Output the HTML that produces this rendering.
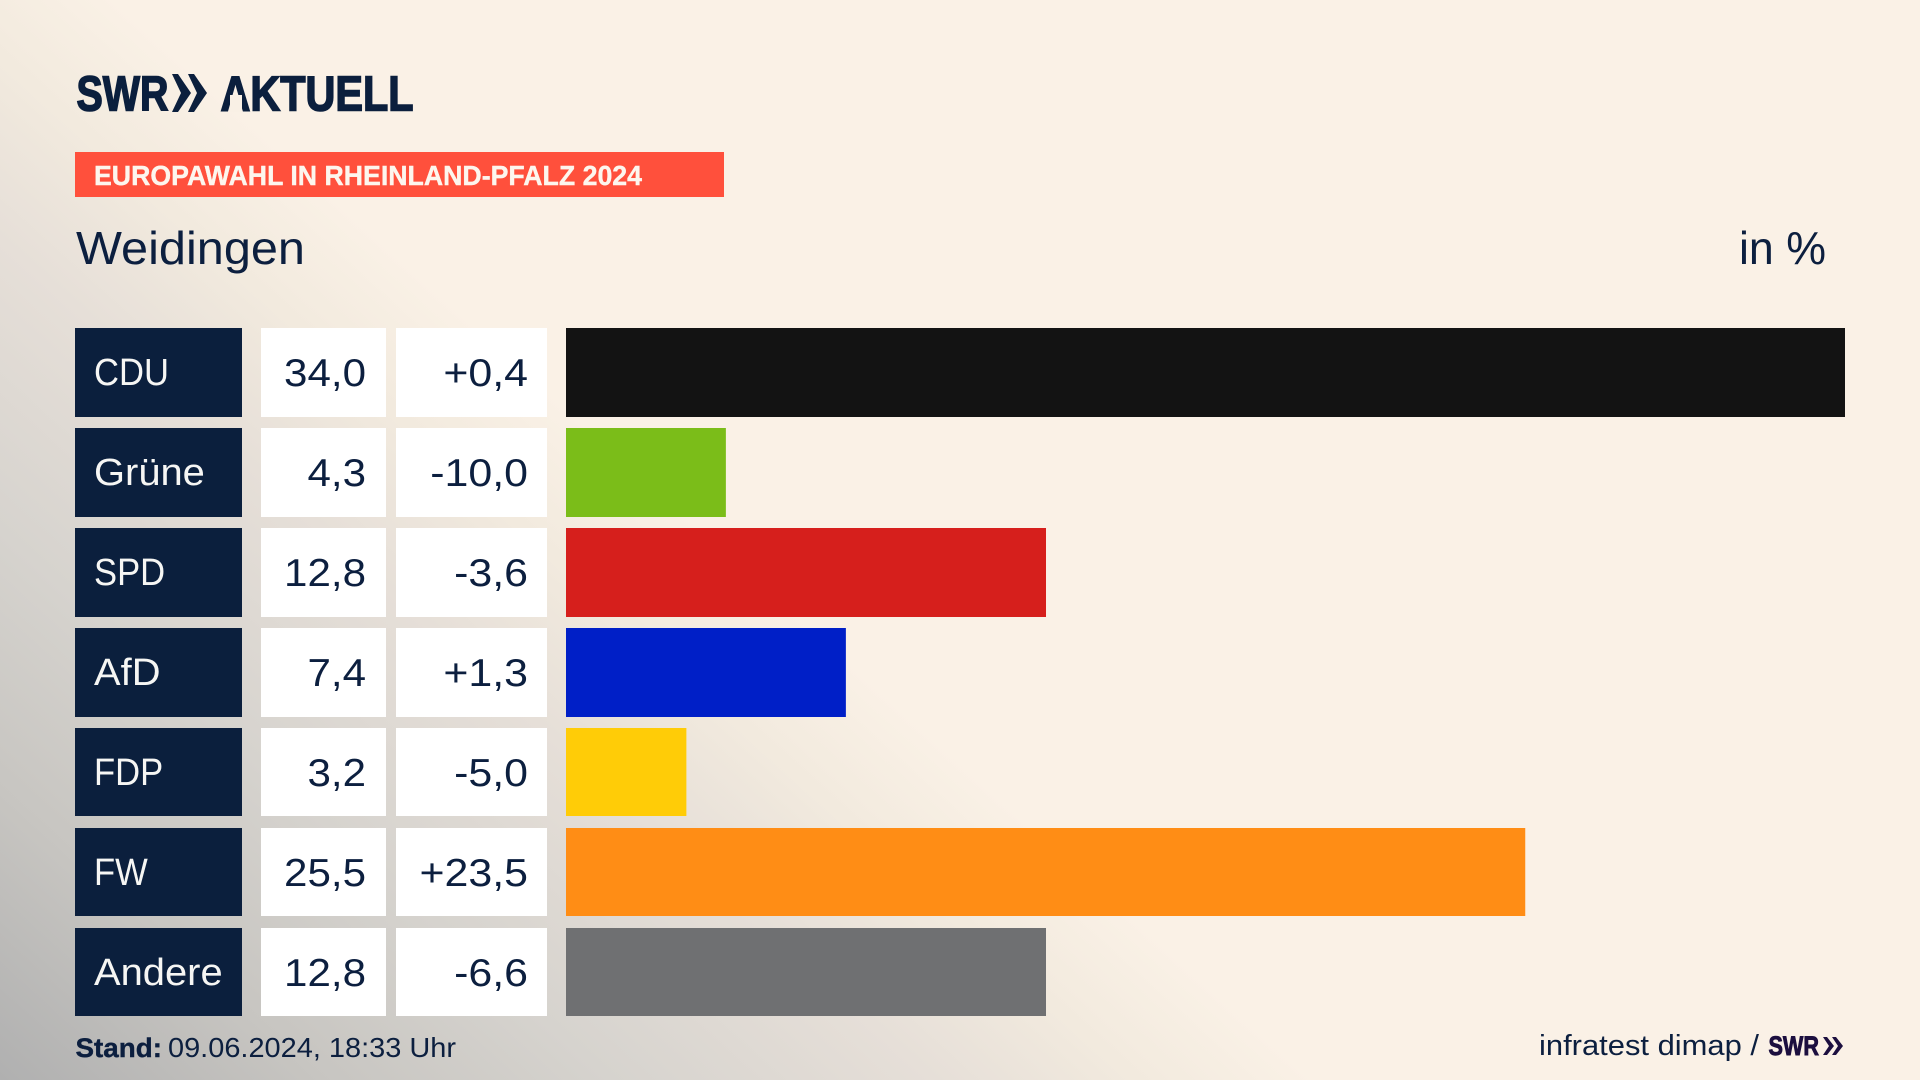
<!DOCTYPE html>
<html lang="de">
<head>
<meta charset="utf-8">
<title>Europawahl in Rheinland-Pfalz 2024 – Weidingen</title>
<style>
  html, body { margin: 0; padding: 0; width: 1920px; height: 1080px; overflow: hidden; background: #faf1e6; }
  #stage {
    position: absolute; left: 0; top: 0; width: 1920px; height: 1080px;
    background: linear-gradient(222deg, #faf1e6 57.8%, #f2eade 63.6%, #e6dfd8 70%, #d6d3ce 80.4%, #c7c5c1 89.7%, #b0b0b0 100%);
  }
  svg { position: absolute; left: 0; top: 0; }
  text { font-family: "Liberation Sans", sans-serif; fill: #0c1f3f; }
  .row-label { font-size: 38px; fill: #f6f6f4; }
  .row-value { font-size: 39px; }
  .box-label { fill: #0b1f3d; }
  .box-cell { fill: #ffffff; }
  .bar-cdu { fill: #131313; }
  .bar-grune { fill: #7bbd19; }
  .bar-spd { fill: #d61f1c; }
  .bar-afd { fill: #001fc7; }
  .bar-fdp { fill: #ffcc07; }
  .bar-fw { fill: #ff8d15; }
  .bar-andere { fill: #6f7072; }
</style>
</head>
<body>
<div id="stage">
<svg id="chart" width="1920" height="1080" viewBox="0 0 1920 1080">
  <g>
    <text x="76.500" y="110.500" font-size="49" font-weight="700" textLength="92" lengthAdjust="spacingAndGlyphs" stroke="#0b1f3d" stroke-width="1.6" style="fill:#0b1f3d">SWR</text>
    <polygon points="172,74 178,74 191,93 178,112 172,112 181,93" fill="#0b1f3d"/>
    <polygon points="188,74 194,74 207,93 194,112 188,112 197,93" fill="#0b1f3d"/>
    <text x="220.500" y="110.500" font-size="49" font-weight="700" textLength="193" lengthAdjust="spacingAndGlyphs" stroke="#0b1f3d" stroke-width="1.6" style="fill:#0b1f3d">AKTUELL</text>
    <rect x="230" y="95" width="12" height="17" fill="#f9f0e5"/>
  </g>

  <rect x="75" y="152" width="649" height="45" fill="#ff503c"/>
  <text x="94" y="185" font-size="28" font-weight="700" textLength="548" lengthAdjust="spacingAndGlyphs" stroke="#fdf6ee" stroke-width="0.4" style="fill:#fdf6ee">EUROPAWAHL IN RHEINLAND-PFALZ 2024</text>

  <text x="76" y="264" font-size="46" textLength="229" lengthAdjust="spacingAndGlyphs">Weidingen</text>
  <text x="1739" y="264" font-size="46" textLength="87" lengthAdjust="spacingAndGlyphs">in %</text>

  <g id="rows"></g>

  <text x="75.500" y="1057" font-size="27" font-weight="700" textLength="86.500" lengthAdjust="spacingAndGlyphs" stroke="#0c1f3f" stroke-width="0.4">Stand:</text>
  <text x="168" y="1057" font-size="28" textLength="288" lengthAdjust="spacingAndGlyphs">09.06.2024, 18:33 Uhr</text>

  <text x="1539" y="1055" font-size="29" textLength="220" lengthAdjust="spacingAndGlyphs">infratest dimap /</text>
  <g>
    <text x="1768.500" y="1055" font-size="27" font-weight="700" textLength="50.500" lengthAdjust="spacingAndGlyphs" stroke="#1c0f3f" stroke-width="0.9" style="fill:#1c0f3f">SWR</text>
    <polygon points="1823,1037 1827,1037 1834,1046 1827,1055 1823,1055 1829,1046" fill="#1c0f3f"/>
    <polygon points="1832,1037 1836,1037 1843,1046 1836,1055 1832,1055 1838,1046" fill="#1c0f3f"/>
  </g>
</svg>
</div>
<script>
const categories = ["CDU", "Grüne", "SPD", "AfD", "FDP", "FW", "Andere"];
const shares = [34.0, 4.25, 12.76, 7.44, 3.2, 25.5, 12.76];
const changes = [0.4, -10.0, -3.6, 1.3, -5.0, 23.5, -6.6];

const svgNS = "http://www.w3.org/2000/svg";
const rowsGroup = document.getElementById("rows");

function xScale(value) { return value * (1279 / 34); }
function rowY(index) { return 328 + index * 100; }
function rowH(index) { return index < 4 ? 89 : 88; }
const BAR_X = 566;

function slug(name) {
  return name.toLowerCase().replace("ü", "u");
}
function fmt(value) {
  return value.toFixed(1).replace(".", ",");
}
function fmtChange(value) {
  return (value > 0 ? "+" : "") + fmt(value);
}
function makeRect(x, y, w, h, cls) {
  const r = document.createElementNS(svgNS, "rect");
  r.setAttribute("x", x);
  r.setAttribute("y", y);
  r.setAttribute("width", w);
  r.setAttribute("height", h);
  r.setAttribute("class", cls);
  return r;
}
function makeText(str, x, y, cls, anchor, scaleX) {
  const t = document.createElementNS(svgNS, "text");
  t.textContent = str;
  t.setAttribute("class", cls);
  t.setAttribute("text-anchor", anchor);
  t.setAttribute("transform", "translate(" + x + " " + y + ") scale(" + scaleX + " 1)");
  return t;
}

categories.forEach(function (name, i) {
  const y = rowY(i);
  const h = rowH(i);
  const key = slug(name);

  const labelBox = makeRect(75, y, 167, h, "box-label");
  
  
  rowsGroup.appendChild(labelBox);

  const allCaps = /^[A-Z]+$/.test(name);
  const label = makeText(name, 94, y + 57, "row-label", "start", allCaps ? 0.91 : 1.05);
  
  
  rowsGroup.appendChild(label);

  const valueBox = makeRect(261, y, 125, h, "box-cell");
  
  
  rowsGroup.appendChild(valueBox);

  const value = makeText(fmt(shares[i]), 366, y + 58, "row-value", "end", 1.08);
  
  
  rowsGroup.appendChild(value);

  const changeBox = makeRect(396, y, 151, h, "box-cell");
  
  
  rowsGroup.appendChild(changeBox);

  const change = makeText(fmtChange(changes[i]), 528, y + 58, "row-value", "end", 1.1);
  
  
  rowsGroup.appendChild(change);

  const bar = makeRect(BAR_X, y, xScale(shares[i]), h, "bar-" + key);
  
  
  rowsGroup.appendChild(bar);
});
</script>
</body>
</html>
